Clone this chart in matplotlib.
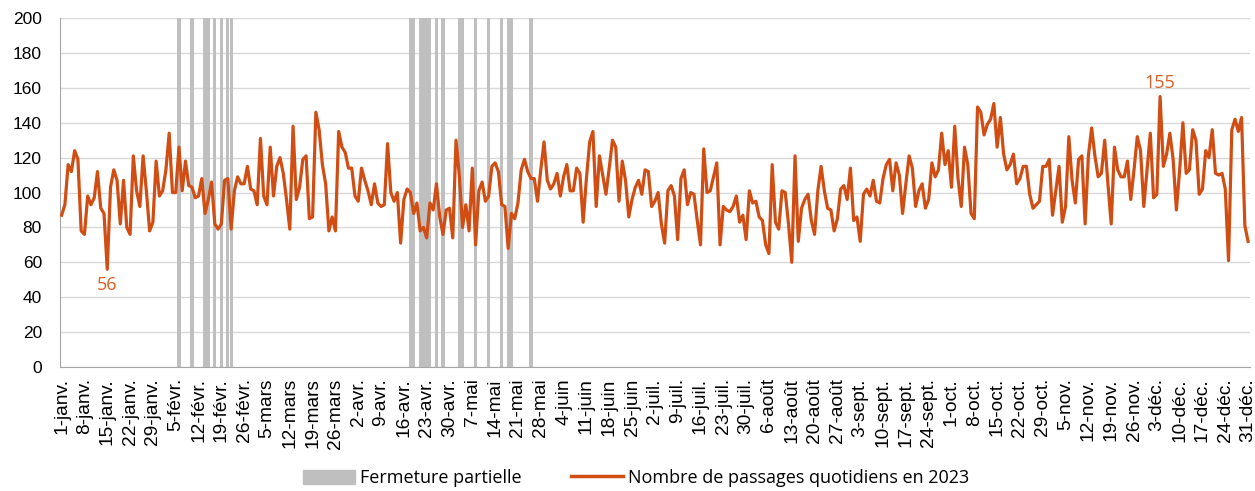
import numpy as np
import pandas as pd
import matplotlib
matplotlib.use("Agg")
import matplotlib.pyplot as plt
from matplotlib.patches import Patch
from matplotlib.lines import Line2D

# Passages quotidiens 2023, lus mois par mois
janv = [87, 93, 116, 112, 124, 119, 78, 76, 98, 93, 97, 112, 91, 88, 56, 103, 113, 107, 82, 107,
        80, 76, 121, 101, 92, 121, 101, 78, 83, 118, 98]
fevr = [101, 113, 134, 100, 100, 126, 101, 118, 104, 103, 97, 98, 108, 88, 96, 106, 82, 79, 82, 107,
        108, 79, 101, 109, 105, 105, 115, 102]
mars = [101, 93, 131, 98, 93, 126, 98, 115, 120, 111, 96, 79, 138, 96, 103, 119, 121, 85, 86, 146,
        136, 116, 105, 78, 86, 78, 135, 126, 123, 114, 114]
avr = [98, 95, 114, 107, 101, 93, 105, 94, 92, 93, 128, 100, 95, 100, 71, 96, 102, 100, 88, 94,
       78, 80, 74, 94, 90, 105, 86, 76, 90, 91]
mai = [74, 130, 110, 80, 93, 78, 114, 70, 101, 106, 95, 98, 115, 117, 112, 93, 92, 68, 88, 85,
       94, 113, 119, 112, 108, 108, 95, 113, 129, 107, 102]
juin = [105, 111, 98, 109, 116, 101, 101, 114, 111, 83, 108, 129, 135, 92, 121, 110, 99, 114, 130, 126,
        95, 118, 107, 86, 96, 103, 107, 99, 113, 112]
juil = [92, 95, 100, 82, 71, 101, 104, 98, 73, 108, 113, 93, 100, 99, 84, 70, 125, 100, 101, 109,
        117, 70, 92, 90, 89, 92, 98, 83, 87, 73, 101]
aout = [94, 95, 86, 84, 70, 65, 116, 83, 79, 101, 100, 82, 60, 121, 72, 91, 96, 99, 84, 76,
        101, 115, 101, 91, 90, 78, 85, 102, 104, 96, 114]
sept = [84, 86, 72, 99, 102, 98, 107, 95, 94, 108, 116, 119, 101, 117, 110, 88, 105, 121, 114, 92,
        101, 105, 91, 96, 117, 109, 113, 134, 116, 124]
octo = [103, 138, 108, 92, 126, 116, 88, 85, 149, 146, 133, 139, 142, 151, 126, 143, 122, 113, 116, 122,
        105, 108, 115, 115, 99, 91, 93, 95, 115, 115, 119]
nov = [87, 101, 115, 83, 92, 132, 107, 94, 119, 121, 82, 121, 137, 121, 109, 111, 130, 105, 82, 126,
       113, 109, 109, 118, 96, 113, 132, 124, 92, 113]
dec = [134, 97, 99, 155, 115, 122, 134, 119, 90, 113, 140, 111, 113, 136, 130, 99, 102, 124, 120, 136,
       111, 110, 111, 102, 61, 136, 142, 135, 143, 81, 72]

# jours de fermeture partielle (numéro du jour dans l'année, 0 = 1er janvier)
jours_fermes = [36, 40, 44, 45, 47, 49, 51, 52, 107, 108, 110, 111, 112, 113, 115, 117,
                122, 123, 127, 131, 135, 137, 138, 144]

mois = ['janv.', 'févr.', 'mars', 'avr.', 'mai', 'juin', 'juil.', 'août', 'sept.', 'oct.', 'nov.', 'déc.']

ORANGE = '#D04E14'
GRIS = '#bfbfbf'

passages = janv + fevr + mars + avr + mai + juin + juil + aout + sept + octo + nov + dec
dates = pd.date_range("2023-01-01", "2023-12-31", freq="D")
x = np.arange(len(dates))

fig = plt.figure(figsize=(12.55, 4.91), dpi=100)
ax = fig.add_axes([0.0478, 0.2525, 0.948, 0.7108])

ax.bar(jours_fermes, 200, width=0.95, color=GRIS, zorder=1)
ax.plot(x, passages, color=ORANGE, lw=2.3, zorder=3, solid_joinstyle='round')

ax.set_xlim(-0.5, len(x) - 0.5)
ax.set_ylim(0, 200)
ax.set_yticks(range(0, 201, 20))
ax.yaxis.grid(True, color='#d9d9d9', lw=1)
ax.set_axisbelow(True)

for s in ['top', 'right']:
    ax.spines[s].set_visible(False)
for s in ['left', 'bottom']:
    ax.spines[s].set_color('#a6a6a6')

ticks = x[::7]
ax.set_xticks(ticks)
ax.set_xticklabels([f"{dates[i].day}-{mois[dates[i].month - 1]}" for i in ticks],
                   rotation=90, fontsize=13.8, family='Liberation Sans')
for lab in ax.get_yticklabels():
    lab.set_family('Liberation Sans')
    lab.set_fontsize(12.5)
ax.tick_params(axis='x', length=0, pad=8)
ax.tick_params(axis='y', length=0, pad=13)

# min et max
vals = np.array(passages)
i_min, i_max = vals.argmin(), vals.argmax()
ax.annotate(str(vals[i_min]), (i_min, vals[i_min]), xytext=(0, -5), textcoords='offset points',
            ha='center', va='top', color='#D95F26', fontsize=13, family='Open Sans')
ax.annotate(str(vals[i_max]), (i_max, vals[i_max]), xytext=(0, 3), textcoords='offset points',
            ha='center', va='bottom', color='#D95F26', fontsize=13, family='Open Sans')

handles = [Patch(color=GRIS), Line2D([0], [0], color=ORANGE, lw=2.5)]
fig.legend(handles, ['Fermeture partielle', 'Nombre de passages quotidiens en 2023'],
           loc='center', bbox_to_anchor=(0.507, 0.026), ncol=2, frameon=False,
           prop={'family': 'Open Sans', 'size': 13}, handlelength=2.88, handleheight=0.9,
           handletextpad=0.28, columnspacing=2.7, borderpad=0.2)

fig.savefig("out.png", dpi=100)
